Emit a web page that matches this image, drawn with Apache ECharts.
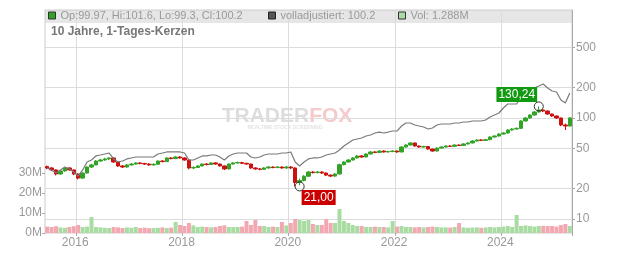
<!DOCTYPE html>
<html><head><meta charset="utf-8">
<script src="https://cdn.jsdelivr.net/npm/echarts@6/dist/echarts.min.js"></script>
<style>html,body{margin:0;padding:0;background:#fff}#c{width:632px;height:253px}</style>
</head><body><div id="c"></div>
<script>
// ---- data (monthly, first candle June 2015) ----
const startYear = 2015, startMonth = 6, monthCount = 119;
const months = [];
for (let i = 0; i < monthCount; i++) {
  const m = startMonth - 1 + i;
  const y = startYear + Math.floor(m / 12);
  const mm = (m % 12) + 1;
  months.push(y + '-' + (mm < 10 ? '0' + mm : '' + mm));
}
const opens = [33.0,32.0,30.6,27.9,29.9,32.0,
 30.6,27.9,25.4,28.5,32.7,34.3,37.5,38.4,39.3,40.2,36.7,33.5,
 32.7,34.3,35.0,35.9,35.4,35.0,34.3,34.8,37.5,37.0,40.2,39.6,
 41.1,40.2,38.4,32.0,32.4,33.5,35.0,34.6,35.9,35.0,33.5,31.3,
 35.0,35.9,36.2,35.6,35.0,32.0,31.3,31.0,32.0,32.7,32.3,32.7,
 32.0,32.7,32.0,23.0,24.0,26.5,29.2,28.8,29.2,28.5,27.2,26.6,
 27.9,34.5,36.7,38.4,40.2,42.1,41.1,44.0,46.1,45.6,47.1,46.1,
 46.5,47.1,46.1,51.6,54.0,56.6,52.8,51.6,52.2,49.3,47.1,50.4,
 51.6,52.8,52.4,54.0,53.5,55.3,56.6,59.2,60.6,60.0,61.0,64.8,
 66.3,69.4,71.0,76.1,77.8,79.0,93.4,100.0,107.1,114.7,120.0,117.3,
 109.5,104.7,100.0,85.3,83.3];
const closes = [32.0,30.6,27.9,29.9,32.0,30.6,
 27.9,25.4,28.5,32.7,34.3,37.5,38.4,39.3,40.2,36.7,33.5,32.7,
 34.3,35.0,35.9,35.4,35.0,34.3,34.8,37.5,37.0,40.2,39.6,41.1,
 40.2,38.4,32.0,32.4,33.5,35.0,34.6,35.9,35.0,33.5,31.3,35.0,
 35.9,36.2,35.6,35.0,32.0,31.3,31.0,32.0,32.7,32.3,32.7,32.0,
 32.7,32.0,23.0,24.0,26.5,29.2,28.8,29.2,28.5,27.2,26.6,27.9,
 34.5,36.7,38.4,40.2,42.1,41.1,44.0,46.1,45.6,47.1,46.1,46.5,
 47.1,46.1,51.6,54.0,56.6,52.8,51.6,52.2,49.3,47.1,50.4,51.6,
 52.8,52.4,54.0,53.5,55.3,56.6,59.2,60.6,60.0,61.0,64.8,66.3,
 69.4,71.0,76.1,77.8,79.0,93.4,100.0,107.1,114.7,120.0,117.3,109.5,
 104.7,100.0,85.3,83.3,100.2];
const lows = [31.2,29.8,27.0,27.4,29.4,30.0,
 27.2,24.6,25.0,28.2,32.0,34.0,36.8,37.8,38.5,36.0,32.8,32.0,
 32.2,33.8,34.6,34.8,34.4,33.7,33.8,34.5,36.4,36.8,39.0,39.2,
 39.6,37.8,31.0,31.2,32.0,33.2,34.0,34.2,34.5,33.0,30.6,31.0,
 34.6,35.4,35.0,34.4,31.4,30.7,30.4,30.6,31.6,31.8,31.9,31.5,
 31.6,31.2,21.0,21.6,23.6,26.2,28.2,28.3,27.9,26.6,26.0,26.2,
 27.5,34.0,36.2,38.0,39.8,40.4,40.8,43.6,44.9,45.1,45.4,45.5,
 45.9,45.3,45.7,51.0,53.4,52.0,50.8,51.0,48.5,46.3,46.7,49.9,
 51.1,51.7,52.0,52.8,53.0,54.8,56.1,58.6,59.1,59.3,60.4,64.1,
 65.6,68.6,70.2,75.0,76.7,78.2,92.0,98.6,105.5,113.0,114.5,107.8,
 102.6,97.8,83.0,76.0,82.5];
const highs = [33.8,32.6,31.0,30.5,32.8,32.5,
 31.0,28.3,29.0,33.2,35.2,38.3,39.4,40.3,41.0,40.8,37.0,34.2,
 35.0,35.8,36.6,36.5,36.0,35.6,35.4,38.0,38.2,40.8,41.0,41.9,
 42.0,40.8,38.8,33.2,34.1,35.6,35.7,36.5,36.4,35.4,33.9,35.5,
 36.6,37.0,36.8,36.0,35.3,32.5,31.9,32.6,33.3,33.2,33.3,33.1,
 33.5,33.4,32.4,25.2,27.2,29.9,29.8,29.9,29.6,28.9,27.6,28.4,
 35.3,37.4,39.1,41.0,42.9,42.8,44.8,46.9,47.0,47.9,47.8,47.4,
 48.0,47.7,52.4,54.9,57.6,57.2,53.4,53.1,52.8,49.8,51.2,52.4,
 53.6,53.5,54.8,54.7,56.2,57.5,60.1,61.6,61.5,62.0,65.9,67.4,
 70.5,72.2,77.4,79.1,80.6,95.0,101.8,109.0,116.8,130.24,122.0,118.5,
 110.8,106.0,101.0,88.0,101.6];
const adjusted = [32.0,30.6,28.5,30.6,32.7,31.3,
 29.2,26.6,30.6,36.7,38.4,42.1,43.0,44.0,45.0,39.3,36.7,37.5,
 39.3,40.2,41.1,41.1,41.1,41.1,41.1,44.0,45.0,46.1,46.1,46.1,
 46.1,45.0,38.4,38.4,40.2,42.1,42.1,43.0,43.0,41.1,38.4,42.1,
 44.0,45.0,45.0,45.0,41.1,40.2,41.1,43.0,44.0,44.0,44.0,45.0,
 45.0,46.1,36.7,33.5,36.7,39.3,40.2,40.2,41.1,43.0,44.0,45.0,
 48.2,52.8,56.6,60.6,62.0,63.4,66.3,67.9,71.0,72.6,71.0,72.6,
 74.3,74.3,83.3,89.2,89.2,85.3,83.3,81.4,77.8,79.6,85.3,87.2,
 87.2,87.2,89.2,89.2,91.3,91.3,93.4,93.4,93.4,95.5,102.3,107.1,
 112.1,125.6,137.6,137.6,137.6,161.4,176.8,185.0,198.2,207.4,217.1,198.2,
 185.0,180.9,150.7,140.8,176.8];
const volumes = [3.2,3.0,3.4,2.8,2.6,3.0,
 3.4,4.0,3.0,3.2,8.0,3.0,2.8,2.6,2.5,3.0,2.8,2.5,
 2.8,2.6,3.0,2.5,2.7,2.4,2.5,2.6,2.8,2.5,2.7,5.5,
 4.0,3.5,5.0,3.8,3.0,3.2,3.0,2.8,3.0,3.5,3.8,3.0,
 3.0,3.0,3.2,6.0,4.0,6.5,3.5,3.5,3.0,3.2,3.0,5.5,
 3.8,5.0,7.0,6.5,6.0,6.5,4.5,4.0,4.0,7.0,5.0,5.0,
 12.0,6.0,5.0,4.0,3.5,3.5,3.0,3.0,3.2,3.0,3.0,2.8,
 6.0,3.2,3.5,3.0,3.0,2.8,3.0,2.8,3.0,3.2,3.0,2.8,
 2.8,2.7,3.0,5.0,2.8,2.6,2.7,2.8,2.6,2.8,3.0,2.8,
 3.0,3.2,3.5,3.0,9.0,3.5,3.8,3.5,3.2,3.5,3.6,3.5,
 3.5,3.2,4.0,4.5,3.5];
const yearLabels = ['2016','2018','2020','2022','2024'];
const priceTicks = [10,20,50,100,200,500];
const lowPoint = {month:'2020-03', value:21.00, text:'21,00'};
const highPoint = {month:'2024-09', value:130.24, text:'130,24'};
const legendTexts = {
  'Kurs':'Op:99.97, Hi:101.6, Lo:99.3, Cl:100.2',
  'volladjustiert':'volladjustiert: 100.2',
  'Vol':'Vol: 1.288M'
};
// ---- chart ----
const FONT = '"Liberation Sans", Arial, sans-serif';
const UP = '#33a328', DOWN = '#cc1111';
const isMark = (idx) => {
  const v = months[idx];
  return v.slice(5) === '01' && yearLabels.indexOf(v.slice(0,4)) >= 0;
};
const legendBase = {selectedMode:false, padding:0, itemGap:0, itemWidth:7, itemHeight:7, top:10,
  textStyle:{fontSize:11, color:'#999', fontFamily:FONT}, formatter:n => legendTexts[n]};
const chart = echarts.init(document.getElementById('c'));
chart.setOption({
  animation:false,
  textStyle:{fontFamily:FONT},
  title:{text:'10 Jahre, 1-Tages-Kerzen', left:51, top:26, padding:0,
    textStyle:{fontSize:12, fontWeight:'bold', color:'#777', fontFamily:FONT}},
  legend:[
    Object.assign({}, legendBase, {left:48, data:[{name:'Kurs', icon:'rect', itemStyle:{color:UP, borderColor:'#333', borderWidth:1}}]}),
    Object.assign({}, legendBase, {left:268, data:[{name:'volladjustiert', icon:'rect', itemStyle:{color:'#555', borderColor:'#222', borderWidth:1}}]}),
    Object.assign({}, legendBase, {left:398, data:[{name:'Vol', icon:'rect', itemStyle:{color:'#a9dca2', borderColor:'#333', borderWidth:1}}]})
  ],
  graphic:[
    {type:'rect', z:-1, silent:true, shape:{x:45, y:10, width:527, height:13}, style:{fill:'#e6e6e6'}},
    {type:'text', z:-1, silent:true, x:287, y:116, style:{text:'{a|TRADER}{b|FOX}', align:'center', verticalAlign:'middle',
      rich:{a:{fill:'#dddddd', fontSize:21, fontWeight:'bold', fontFamily:FONT}, b:{fill:'#f6caca', fontSize:21, fontWeight:'bold', fontFamily:FONT}}}},
    {type:'text', z:-1, silent:true, x:285, y:128, style:{text:'REALTIME STOCK SCREENING', align:'center', verticalAlign:'middle', fill:'#e3e3e3', font:'bold 5px "Liberation Sans"'}}
  ],
  grid:[
    {left:45, right:60, top:10, bottom:20, show:true, borderColor:'#ccc', borderWidth:1},
    {left:45, right:60, top:173, bottom:20}
  ],
  xAxis:[
    {type:'category', gridIndex:0, data:months, axisLine:{show:false}, axisTick:{show:false}, axisLabel:{show:false},
      splitLine:{show:true, interval:isMark, lineStyle:{color:'#dcdcdc'}}},
    {type:'category', gridIndex:1, data:months, axisLine:{show:false},
      axisTick:{show:true, interval:isMark, length:3, lineStyle:{color:'#aaa'}},
      axisLabel:{interval:isMark, formatter:v => v.slice(0,4), color:'#999', fontSize:12, margin:4, padding:[0,6,0,0]},
      splitLine:{show:false}}
  ],
  yAxis:[
    {type:'log', gridIndex:0, position:'right', min:7.266, max:1173, logBase:10,
      axisLine:{show:true, lineStyle:{color:'#aaa'}},
      axisTick:{show:true, customValues:priceTicks, length:3, lineStyle:{color:'#aaa'}},
      axisLabel:{customValues:priceTicks, color:'#999', fontSize:12, margin:4},
      splitLine:{show:true, lineStyle:{color:'#dcdcdc'}}},
    {type:'value', gridIndex:1, position:'left', min:0, max:30, interval:10,
      axisLine:{show:false}, axisTick:{show:true, length:3, lineStyle:{color:'#aaa'}},
      axisLabel:{formatter:v => v + 'M', color:'#999', fontSize:12, margin:3},
      splitLine:{show:false}}
  ],
  series:[
    {type:'bar', name:'Vol', xAxisIndex:1, yAxisIndex:1, barCategoryGap:'10%',
      data:volumes.map((v,i) => ({value:v, itemStyle:{color: closes[i] >= opens[i] ? '#a9dca2' : '#f2a7b1'}}))},
    {type:'line', name:'volladjustiert', xAxisIndex:0, yAxisIndex:0, data:adjusted, symbol:'none',
      lineStyle:{color:'#7a7a7a', width:1.2}, itemStyle:{color:'#555'}},
    {type:'candlestick', name:'Kurs', xAxisIndex:0, yAxisIndex:0, barWidth:4,
      data:months.map((m,i) => [opens[i], closes[i], lows[i], highs[i]]),
      itemStyle:{color:UP, color0:DOWN, borderColor:UP, borderColor0:DOWN, borderWidth:1},
      markPoint:{symbol:'circle', symbolSize:9, silent:true,
        itemStyle:{color:'rgba(0,0,0,0)', borderColor:'#333', borderWidth:1},
        data:[
          {coord:[lowPoint.month, lowPoint.value], label:{show:true, formatter:lowPoint.text, position:'inside', offset:[19,11],
            backgroundColor:'#cc0000', color:'#fff', fontSize:12, padding:[2,2,1,2], fontFamily:FONT}},
          {coord:[highPoint.month, highPoint.value], label:{show:true, formatter:highPoint.text, position:'inside', offset:[-22,-12],
            backgroundColor:'#119911', color:'#fff', fontSize:12, padding:[2,2,1,2], fontFamily:FONT}}
        ]}}
  ]
});
</script></body></html>
